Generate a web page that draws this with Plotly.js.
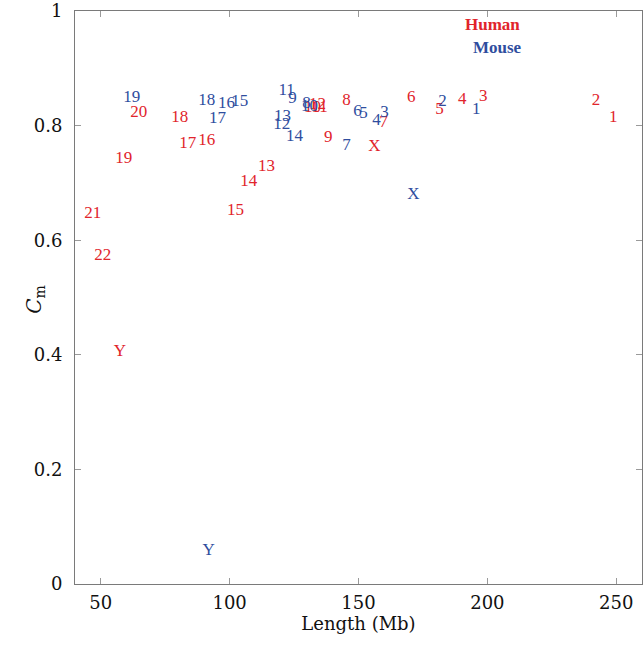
<!DOCTYPE html>
<html>
<head>
<meta charset="utf-8">
<script src="https://cdn.plot.ly/plotly-3.0.1.min.js"></script>
<style>html,body{margin:0;padding:0;background:#fff;}#chart{width:644px;height:649px;}</style>
</head>
<body>
<div id="chart"></div>
<script>
// Human chromosomes
const humanLabels = ["1","2","3","4","5","6","7","8","9","10","11","12","13","14","15","16","17","18","19","20","21","22","X","Y"];
const humanLength = [248.8,242.2,198.4,190.3,181.4,170.5,159.7,145.3,138.3,132.2,134.9,134.1,114.3,107.4,102.3,91.1,83.7,80.6,58.9,64.7,46.9,50.8,156.2,57.4];
const humanCm     = [0.813,0.843,0.850,0.845,0.827,0.848,0.805,0.843,0.778,0.832,0.831,0.836,0.728,0.702,0.651,0.773,0.768,0.813,0.742,0.822,0.646,0.572,0.763,0.405];

// Mouse chromosomes
const mouseLabels = ["1","2","3","4","5","6","7","8","9","10","11","12","13","14","15","16","17","18","19","X","Y"];
const mouseLength = [195.7,182.6,160.1,157.0,151.9,149.6,145.3,129.8,124.4,131.0,122.1,120.2,120.5,125.2,103.9,98.8,95.3,91.1,62.0,171.3,91.9];
const mouseCm     = [0.827,0.841,0.822,0.808,0.820,0.824,0.764,0.839,0.846,0.833,0.860,0.801,0.815,0.780,0.841,0.839,0.812,0.843,0.848,0.679,0.058];

const xTicks = [50,100,150,200,250];
const yTicks = [0,0.2,0.4,0.6,0.8,1];
const yTickText = ["0","0.2","0.4","0.6","0.8","1"];

const RED = "#e1242b";
const BLUE = "#2f4d9e";
const SERIF = "Liberation Serif";
const TICKSERIF = "DejaVu Serif";

const traces = [
  {x: humanLength, y: humanCm, text: humanLabels, mode: "text", type: "scatter", name: "Human",
   textposition: "middle center", textfont: {family: SERIF, size: 17, color: RED}, hoverinfo: "skip"},
  {x: mouseLength, y: mouseCm, text: mouseLabels, mode: "text", type: "scatter", name: "Mouse",
   textposition: "middle center", textfont: {family: SERIF, size: 17, color: BLUE}, hoverinfo: "skip"}
];

function axisCommon() {
  return {
    showline: true, linecolor: "#7a7a7a", linewidth: 1, mirror: "ticks",
    ticks: "inside", ticklen: 6, tickcolor: "#9a9a9a", tickwidth: 1,
    showgrid: false, zeroline: false,
    tickfont: {family: TICKSERIF, size: 18, color: "#111"}
  };
}

const layout = {
  width: 644, height: 649,
  margin: {l: 75, r: 2, t: 11, b: 65},
  font: {family: SERIF, color: "#111"},
  paper_bgcolor: "#fff", plot_bgcolor: "#fff",
  showlegend: false,
  xaxis: Object.assign(axisCommon(), {
    range: [40, 260], tickvals: xTicks, ticklabelstandoff: 2,
    title: {text: "Length (Mb)", font: {family: TICKSERIF, size: 18, color: "#111"}, standoff: 4}
  }),
  yaxis: Object.assign(axisCommon(), {
    range: [0, 1], tickvals: yTicks, ticktext: yTickText, ticklabelstandoff: 8
  }),
  annotations: [
    {xref: "paper", yref: "paper", x: 0, xshift: -40, y: 0.496, xanchor: "center", yanchor: "middle",
     textangle: -90, text: "<i>C</i><sub>m</sub>", showarrow: false,
     font: {family: TICKSERIF, size: 20, color: "#111"}},
    {xref: "paper", yref: "paper", x: 0.737, y: 0.976, xanchor: "center", yanchor: "middle",
     text: "<b>Human</b>", showarrow: false, font: {family: SERIF, size: 17, color: RED}},
    {xref: "paper", yref: "paper", x: 0.745, y: 0.937, xanchor: "center", yanchor: "middle",
     text: "<b>Mouse</b>", showarrow: false, font: {family: SERIF, size: 17, color: BLUE}}
  ]
};

Plotly.newPlot("chart", traces, layout, {displayModeBar: false, staticPlot: true});
</script>
</body>
</html>
